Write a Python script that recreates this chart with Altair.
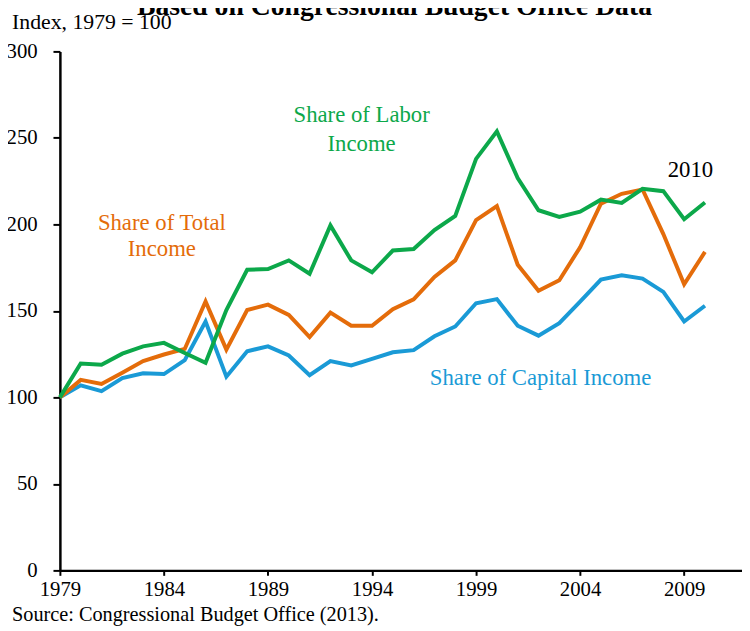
import altair as alt
import pandas as pd

years = list(range(1979, 2011))
labor = [100, 119.6, 118.9, 125.3, 129.5, 131.5, 125.7, 120.0, 150.5, 173.8, 174.2, 179.2, 171.5, 199.4, 179.2, 172.3,
         184.9, 185.8, 196.7, 204.9, 237.9, 253.8, 226.8, 208.2, 204.3, 207.4, 214.3, 212.4, 220.6, 219.2, 203.0, 212.7]
total = [100, 110.1, 107.8, 114.3, 121.0, 124.8, 128.0, 155.5, 127.6, 150.5, 153.6, 147.7, 134.9, 149.0, 141.4, 141.4,
         151.0, 156.7, 169.6, 179.2, 202.5, 210.6, 176.7, 161.6, 167.7, 186.8, 212.0, 217.7, 220.2, 194.4, 165.4, 184.1]
capital = [100, 107.0, 103.6, 111.2, 113.9, 113.5, 121.5, 143.9, 112.0, 126.7, 129.5, 124.2, 112.8, 121.0, 118.5, 122.3,
           126.1, 127.3, 135.3, 141.0, 154.4, 156.8, 141.4, 135.7, 142.9, 155.3, 168.1, 170.6, 168.7, 161.0, 143.9, 153.0]

series_names = ["Share of Capital Income", "Share of Total Income", "Share of Labor Income"]
series_colors = ["#1A9AD6", "#E46C0A", "#0CA84A"]

x_ticks = [1979, 1984, 1989, 1994, 1999, 2004, 2009]
y_ticks = [0, 50, 100, 150, 200, 250, 300]

# annotation texts and their anchor positions (in data units)
ann_text = ["Share of Labor", "Income", "Share of Total", "Income", "Share of Capital Income", "2010"]
ann_year = [1993.5, 1993.5, 1983.9, 1983.9, 2002.1, 2009.3]
ann_value = [263.0, 246.5, 201.0, 185.9, 111.3, 231.2]
ann_color = ["#0CA84A", "#0CA84A", "#E46C0A", "#E46C0A", "#1A9AD6", "#000000"]

rows = []
for name, vals in zip(series_names, [capital, total, labor]):
    for yr, v in zip(years, vals):
        rows.append({"year": yr, "value": v, "series": name})
df = pd.DataFrame(rows)

ann = pd.DataFrame({"year": ann_year, "value": ann_value, "text": ann_text, "color": ann_color})
side = pd.DataFrame({"year": [1976.7, 1976.7], "value": [316.7, -26.1],
                     "text": ["Index, 1979 = 100", "Source: Congressional Budget Office (2013)."],
                     "size": [22, 20.5]})
title_df = pd.DataFrame({"year": [1995.08], "value": [321.3],
                         "text": ["Based on Congressional Budget Office Data"]})

FONT = "Liberation Serif"
x_scale = alt.Scale(domain=[1979, 2011.78], nice=False, zero=False)
y_scale = alt.Scale(domain=[0, 300], nice=False)

lines = alt.Chart(df).mark_line(strokeWidth=4).encode(
    x=alt.X("year:Q", scale=x_scale,
            axis=alt.Axis(values=x_ticks, format="d", title=None, grid=False, tickSize=5,
                          labelPadding=3, labelFlush=False, labelOverlap=False)),
    y=alt.Y("value:Q", scale=y_scale,
            axis=alt.Axis(values=y_ticks, title=None, grid=False, tickSize=7, labelPadding=16)),
    color=alt.Color("series:N", scale=alt.Scale(domain=series_names, range=series_colors), legend=None),
    detail="series:N",
)

labels = alt.Chart(ann).mark_text(font=FONT, fontSize=23, align="center", baseline="middle").encode(
    x=alt.X("year:Q", scale=x_scale),
    y=alt.Y("value:Q", scale=y_scale),
    text="text:N",
    color=alt.Color("color:N", scale=None),
)

side_text = alt.Chart(side).mark_text(font=FONT, align="left", baseline="middle", color="black").encode(
    x=alt.X("year:Q", scale=x_scale),
    y=alt.Y("value:Q", scale=y_scale),
    text="text:N",
    size=alt.Size("size:Q", scale=None),
)

title_text = alt.Chart(title_df).mark_text(font=FONT, fontSize=28, fontWeight="bold", align="center",
                                           baseline="alphabetic", color="black").encode(
    x=alt.X("year:Q", scale=x_scale),
    y=alt.Y("value:Q", scale=y_scale),
    text="text:N",
)

chart = alt.layer(lines, labels, side_text, title_text).properties(
    width=690,
    height=525,
    autosize=alt.AutoSizeParams(type="none"),
    padding={"left": 52.5, "top": 40.3, "right": 0, "bottom": 58},
).configure_view(stroke=None).configure_axis(
    labelFont=FONT, labelFontSize=21, labelColor="black",
    domainColor="black", domainWidth=2.5, tickColor="black", tickWidth=2,
)

chart.save("out.html", embed_options={"renderer": "svg", "actions": False})
